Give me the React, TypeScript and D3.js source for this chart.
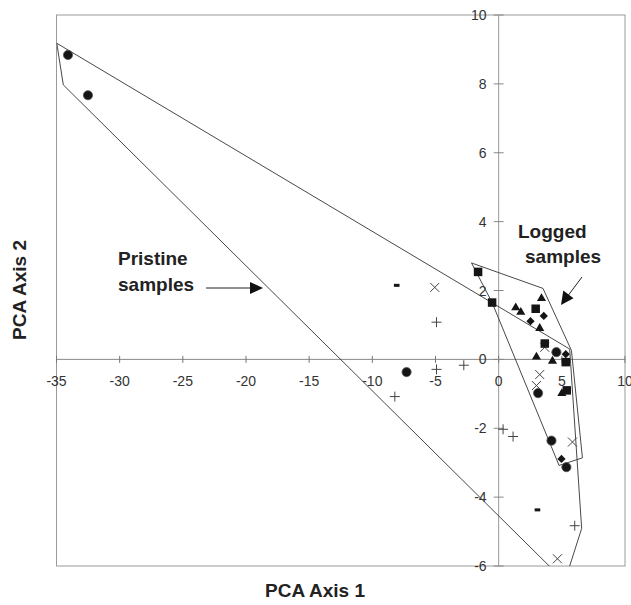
import React from "react";
import * as d3 from "d3";

const W = 631;
const H = 605;

// Data (PCA axis 1, PCA axis 2)
const circles: [number, number][] = [
  [-34.09, 8.84], [-32.51, 7.67], [-7.29, -0.37], [3.12, -0.98],
  [4.57, 0.21], [4.18, -2.36], [5.36, -3.13],
];
const squares: [number, number][] = [
  [-1.63, 2.54], [-0.52, 1.65], [2.93, 1.47], [3.65, 0.46], [5.31, -0.08], [5.39, -0.9],
];
const triangles: [number, number][] = [
  [1.35, 1.5], [1.75, 1.37], [3.39, 1.77], [3.25, 0.9], [2.99, 0.07], [4.26, -0.05], [5.0, -0.99],
];
const diamonds: [number, number][] = [
  [3.57, 1.26], [2.52, 1.11], [5.31, 0.15], [4.97, -2.89],
];
const crosses: [number, number][] = [
  [-5.06, 2.09], [3.65, 0.35], [3.25, -0.44], [2.99, -0.76], [5.84, -2.4], [4.65, -5.79],
];
const pluses: [number, number][] = [
  [-4.92, 1.08], [-4.92, -0.29], [-2.76, -0.17], [-8.22, -1.08], [0.35, -2.03], [1.14, -2.24], [6.02, -4.83],
];
const dashes: [number, number][] = [
  [-8.07, 2.15], [3.07, -4.37],
];

const pristineHull: [number, number][] = [
  [-34.98, 9.18], [5.62, 0.3], [6.57, -4.91], [5.36, -6.3], [4.83, -6.3], [-34.46, 7.97],
];
const loggedHull: [number, number][] = [
  [-2.15, 2.8], [3.51, 2.06], [5.76, 0.26], [6.63, -2.86], [4.78, -3.08], [-0.52, 1.65],
];

const xTicks = [-35, -30, -25, -20, -15, -10, -5, 0, 5, 10];
const yTicks = [-6, -4, -2, 0, 2, 4, 6, 8, 10];

export default function App() {
  const x = d3.scaleLinear().domain([-35, 10]).range([56.5, 625]);
  const y = d3.scaleLinear().domain([-6, 10]).range([566, 15]);
  const line = d3.line<[number, number]>().x((d) => x(d[0])).y((d) => y(d[1])).curve(d3.curveLinearClosed);
  const x0 = x(0);
  const y0 = y(0);
  const fill = "#151515";
  const font = "'Liberation Sans', Arial, Helvetica, sans-serif";
  const sq = 8.5;
  const tri = d3.symbol().type(d3.symbolTriangle).size(36)();
  const dia = d3.symbol().type(d3.symbolSquare).size(34)();

  return (
    <svg width={W} height={H} style={{ position: "absolute", left: 0, top: 0, background: "#fff" }} fontFamily={font}>
      <defs>
        <clipPath id="plotclip">
          <rect x={x(-35)} y={y(10)} width={x(10) - x(-35)} height={y(-6) - y(10)} />
        </clipPath>
      </defs>
      {/* frame */}
      <rect x={x(-35)} y={y(10)} width={x(10) - x(-35)} height={y(-6) - y(10)} fill="none" stroke="#9a9a9a" strokeWidth={1} />
      {/* axes */}
      <line x1={x(-35)} x2={x(10)} y1={y0} y2={y0} stroke="#888" strokeWidth={1} />
      <line x1={x0} x2={x0} y1={y(-6)} y2={y(10)} stroke="#999" strokeWidth={1} />
      {xTicks.map((t) => (
        <g key={"xt" + t}>
          <line x1={x(t)} x2={x(t)} y1={y0 - 3.5} y2={y0 + 3.5} stroke="#777" strokeWidth={1} />
          <text x={x(t)} y={y0 + 27} fontSize={14} textAnchor="middle" fill="#333">{t}</text>
        </g>
      ))}
      {yTicks.map((t) => (
        <g key={"yt" + t}>
          <line x1={x0 - 5} x2={x0 + 5} y1={y(t)} y2={y(t)} stroke="#888" strokeWidth={1} />
          <text x={x0 - 12} y={y(t)} dy="0.36em" fontSize={14} textAnchor="end" fill="#333">{t}</text>
        </g>
      ))}
      {/* hulls */}
      <g clipPath="url(#plotclip)" fill="none" stroke="#333" strokeWidth={0.9}>
        <path d={line(pristineHull) || ""} />
        <path d={line(loggedHull) || ""} />
      </g>
      {/* markers */}
      <g stroke="#444" strokeWidth={1}>
        {pluses.map((d, i) => (
          <g key={"p" + i} transform={`translate(${x(d[0])},${y(d[1])})`}>
            <line x1={-5} x2={5} y1={0} y2={0} />
            <line x1={0} x2={0} y1={-5} y2={5} />
          </g>
        ))}
        {crosses.map((d, i) => (
          <g key={"c" + i} transform={`translate(${x(d[0])},${y(d[1])})`}>
            <line x1={-4.5} x2={4.5} y1={-4.5} y2={4.5} />
            <line x1={-4.5} x2={4.5} y1={4.5} y2={-4.5} />
          </g>
        ))}
      </g>
      <g fill={fill}>
        {dashes.map((d, i) => (
          <rect key={"d" + i} x={x(d[0]) - 2.8} y={y(d[1]) - 1.5} width={5.6} height={3} />
        ))}
        {circles.map((d, i) => (
          <circle key={"o" + i} cx={x(d[0])} cy={y(d[1])} r={4.6} stroke="#555" strokeWidth={0.8} />
        ))}
        {squares.map((d, i) => (
          <rect key={"s" + i} x={x(d[0]) - sq / 2} y={y(d[1]) - sq / 2} width={sq} height={sq} />
        ))}
        {triangles.map((d, i) => (
          <path key={"t" + i} d={tri || ""} transform={`translate(${x(d[0])},${y(d[1])})`} />
        ))}
        {diamonds.map((d, i) => (
          <path key={"m" + i} d={dia || ""} transform={`translate(${x(d[0])},${y(d[1])}) rotate(45)`} />
        ))}
      </g>
      {/* annotations */}
      <g fontWeight="bold" fontSize={19} fill="#222">
        <text x={118} y={265}>Pristine</text>
        <text x={118} y={291}>samples</text>
        <text x={518} y={238}>Logged</text>
        <text x={525} y={263}>samples</text>
      </g>
      <g stroke="#222" strokeWidth={1} fill="#111">
        <line x1={206} y1={288} x2={252} y2={288} />
        <path d="M263,288 L250,282 L250,294 Z" stroke="none" />
        <line x1={582} y1={277} x2={567} y2={297} />
        <path d="M561,305 L563.3,290.5 L573.5,298.2 Z" stroke="none" />
      </g>
      {/* axis titles */}
      <text x={315} y={597} textAnchor="middle" fontWeight="bold" fontSize={19} fill="#222">PCA Axis 1</text>
      <text transform="translate(26,290) rotate(-90)" textAnchor="middle" fontWeight="bold" fontSize={19} fill="#222">PCA Axis 2</text>
    </svg>
  );
}
